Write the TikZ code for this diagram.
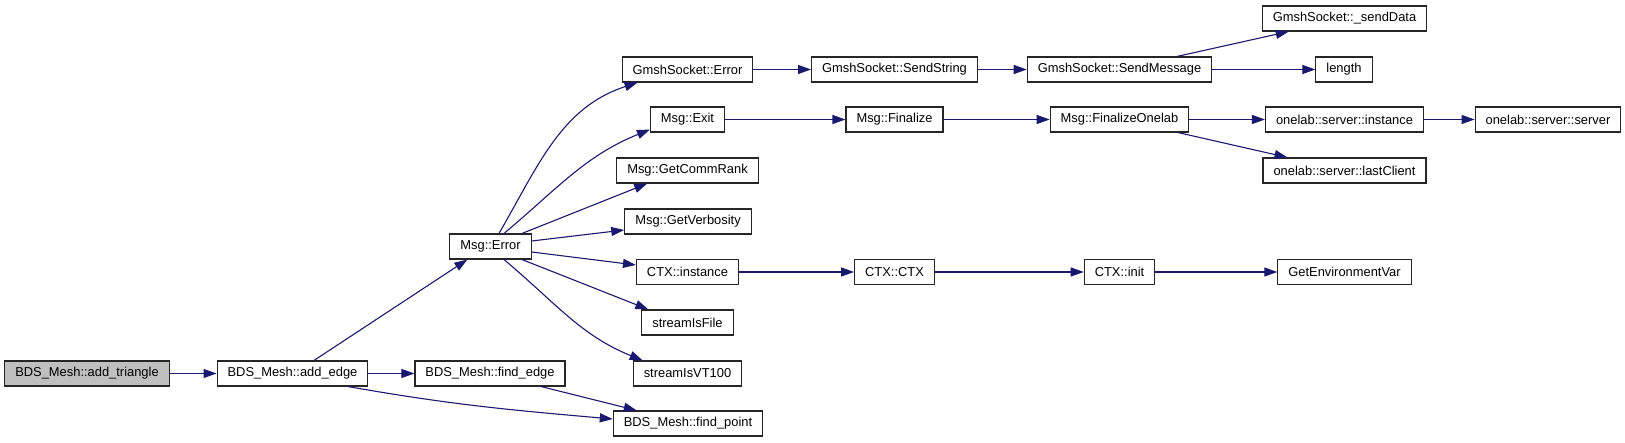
\documentclass[tikz,border=0pt]{standalone}
\usepackage{fontspec}
\setmainfont{Liberation Sans}
\usepackage{xcolor}
\usetikzlibrary{arrows.meta,calc}
\definecolor{edgeblue}{RGB}{25,25,112}
\definecolor{rootgray}{RGB}{191,191,191}

\begin{document}
\begin{tikzpicture}[
  x=1pt, y=1pt,
  every node/.style={font=\fontsize{12.9}{15}\selectfont},
  fn/.style={draw=black!85, fill=white, line width=1.1pt, minimum height=25pt,
             inner xsep=10.5pt, inner ysep=0pt, anchor=center},
  call/.style={-{Triangle[length=13pt,width=9pt]}, draw=edgeblue, line width=1.1pt},
]
\useasboundingbox (0,0) rectangle (1625,-443);
\fill[white] (0,0) rectangle (1625,-443);
% column 1-3
\node[fn, fill=rootgray] (tri)   at (87,-373.5)    {BDS\_Mesh::add\_triangle};
\node[fn] (addedge)              at (292.5,-373.5) {BDS\_Mesh::add\_edge};
\node[fn] (err)                  at (490.5,-246.5) {Msg::Error};
\node[fn] (fedge)                at (490,-373.5)   {BDS\_Mesh::find\_edge};
% column 4
\node[fn] (gerr)   at (687.5,-69.5)  {GmshSocket::Error};
\node[fn] (exit)   at (687.5,-119.5) {Msg::Exit};
\node[fn] (comm)   at (687.5,-170.5) {Msg::GetCommRank};
\node[fn] (verb)   at (688,-221.5)   {Msg::GetVerbosity};
\node[fn] (ctxi)   at (687.5,-272)   {CTX::instance};
\node[fn] (sfile)  at (687.5,-322.5) {streamIsFile};
\node[fn] (svt)    at (687.5,-373.5) {streamIsVT100};
\node[fn] (fpoint) at (688,-423.5)   {BDS\_Mesh::find\_point};
% column 5-6
\node[fn] (sstr)   at (894.5,-69.5)   {GmshSocket::SendString};
\node[fn] (fin)    at (894.5,-119.5)  {Msg::Finalize};
\node[fn] (ctxc)   at (894.5,-272)    {CTX::CTX};
\node[fn] (smsg)   at (1119.5,-69.5)  {GmshSocket::SendMessage};
\node[fn] (fonel)  at (1119.5,-119.5) {Msg::FinalizeOnelab};
\node[fn] (cinit)  at (1119.5,-272)   {CTX::init};
% column 7-8
\node[fn] (sdata)  at (1344.5,-18.5)  {GmshSocket::\_sendData};
\node[fn] (len)    at (1344,-69.5)    {length};
\node[fn] (oinst)  at (1344.5,-119.5) {onelab::server::instance};
\node[fn] (lastc)  at (1344.5,-170.5) {onelab::server::lastClient};
\node[fn] (getenv) at (1344.5,-272)   {GetEnvironmentVar};
\node[fn] (oserv)  at (1548,-119.5)   {onelab::server::server};
% calls
\draw[call] (tri.east) -- (addedge.west);
\draw[call] ($(addedge.north)+(21.5,0)$) -- ($(err.south west)+(18,0)$);
\draw[call] (addedge.east) -- (fedge.west);
\draw[call] ($(addedge.south)+(55.5,0)$) to[out=-10,in=175] ($(fpoint.west)+(0,4.5)$);
\draw[call] ($(fedge.south)+(51,0)$) -- ($(fpoint.north west)+(24,0)$);
\draw[call] ($(err.north)+(8.5,0)$) to[out=60,in=-162] ($(gerr.south west)+(16,0)$);
\draw[call] ($(err.north)+(13.5,0)$) to[out=40,in=-158] ($(exit.south west)+(0,3)$);
\draw[call] ($(err.north)+(31.5,0)$) -- ($(comm.south west)+(31,0)$);
\draw[call] ($(err.east)+(0,5.5)$) -- ($(verb.west)+(0,-8.5)$);
\draw[call] ($(err.east)+(0,-5.5)$) -- ($(ctxi.west)+(0,7)$);
\draw[call] ($(err.south)+(31.5,0)$) -- ($(sfile.north west)+(7,0)$);
\draw[call] ($(err.south)+(13.5,0)$) to[out=-40,in=158] ($(svt.north west)+(10,0)$);
\draw[call] (gerr.east) -- (sstr.west);
\draw[call] (sstr.east) -- (smsg.west);
\draw[call] ($(smsg.north)+(57.5,0)$) -- ($(sdata.south west)+(27,0)$);
\draw[call] (smsg.east) -- (len.west);
\draw[call] (exit.east) -- (fin.west);
\draw[call] (fin.east) -- (fonel.west);
\draw[call] (fonel.east) -- (oinst.west);
\draw[call] ($(fonel.south)+(58.5,0)$) -- ($(lastc.north west)+(25,0)$);
\draw[call] (oinst.east) -- (oserv.west);
\draw[call] (ctxi.east) -- (ctxc.west);
\draw[call] (ctxc.east) -- (cinit.west);
\draw[call] (cinit.east) -- (getenv.west);
\end{tikzpicture}
\end{document}
